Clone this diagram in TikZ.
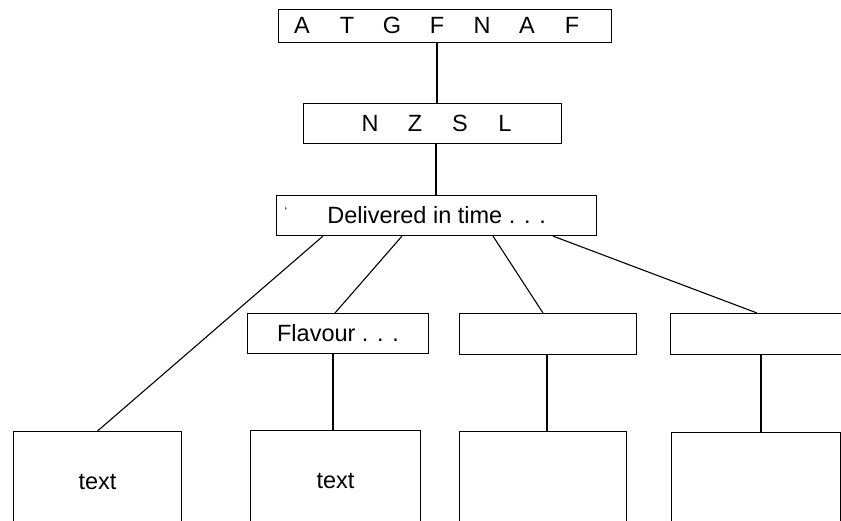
\documentclass[tikz,border=0pt]{standalone}
\usepackage{fontspec}
\setmainfont{Liberation Sans}
\usetikzlibrary{calc}
\newcommand\lsp[1]{\makebox[45pt]{#1}}
\begin{document}
\begin{tikzpicture}[x=1pt,y=-1pt,
  box/.style={draw=black, line width=1.1pt, inner sep=0pt, anchor=north west},
  lbl/.style={inner sep=0pt, font=\fontsize{23.5}{28}\selectfont},
  link/.style={draw=black, line width=1.1pt}]
\useasboundingbox (0,0) rectangle (841,521);
\clip (0,0) rectangle (841,521);
\fill[white] (0,0) rectangle (841,521);
% boxes
\node[box, minimum width=333pt, minimum height=33pt] (top) at (278,9) {};
\node[lbl] (toptext) at (437,25.5) {\lsp{A}\lsp{T}\lsp{G}\lsp{F}\lsp{N}\lsp{A}\lsp{F}};
\node[box, minimum width=258pt, minimum height=40pt] (nzsl) at (303,103) {};
\node[lbl] (nzsltext) at (437.5,123) {\lsp{N}\lsp{Z}\lsp{S}\lsp{L}};
\node[box, lbl, minimum width=320pt, minimum height=40pt, anchor=north west] (del) at (276,195) {Delivered in time . . .};
\node[inner sep=0pt, font=\fontsize{12}{12}\selectfont] (tick) at (286,211) {`};
\node[box, lbl, minimum width=181pt, minimum height=40pt, anchor=north west] (flav) at (247,313) {Flavour . . .};
\node[box, minimum width=177pt, minimum height=41pt] (mid3) at (459,313) {};
\node[box, minimum width=190pt, minimum height=41pt] (mid4) at (670,313) {};
\node[box, lbl, minimum width=168pt, minimum height=100pt, anchor=north west] (b1) at (13,431) {text};
\node[box, lbl, minimum width=170pt, minimum height=100pt, anchor=north west] (b2) at (250,430) {text};
\node[box, minimum width=167pt, minimum height=100pt] (b3) at (459,431) {};
\node[box, minimum width=169pt, minimum height=100pt] (b4) at (671,432) {};
% helper x positions
\coordinate (s1) at (437,0);
\coordinate (s2) at (436,0);
\coordinate (v2) at (333,0);
\coordinate (v3) at (547,0);
\coordinate (v4) at (761,0);
% connectors
\draw[link] (top.south -| s1) -- (nzsl.north -| s1);
\draw[link] (nzsl.south -| s2) -- (del.north -| s2);
\draw[link] ($(del.south west)+(47,0)$) -- (b1.north);
\draw[link] ($(del.south west)+(126,0)$) -- ($(flav.north west)+(88,0)$);
\draw[link] ($(del.south west)+(217,0)$) -- ($(mid3.north west)+(84,0)$);
\draw[link] ($(del.south west)+(277,0)$) -- ($(mid4.north west)+(87,0)$);
\draw[link] (flav.south -| v2) -- (b2.north -| v2);
\draw[link] (mid3.south -| v3) -- (b3.north -| v3);
\draw[link] (mid4.south -| v4) -- (b4.north -| v4);
\end{tikzpicture}
\end{document}
